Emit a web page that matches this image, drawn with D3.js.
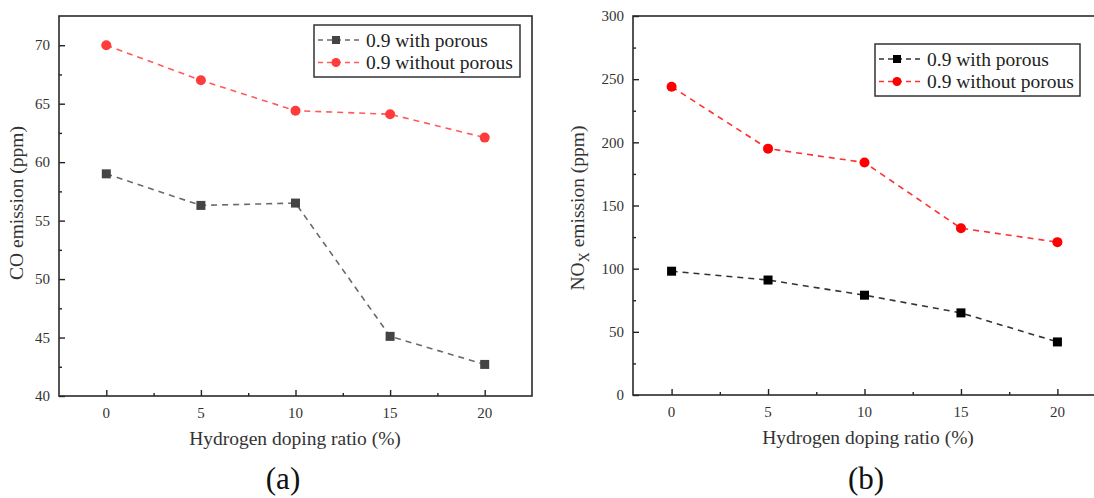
<!DOCTYPE html>
<html>
<head>
<meta charset="utf-8">
<script src="https://cdn.jsdelivr.net/npm/d3@7"></script>
<style>
  html, body { margin: 0; padding: 0; background: #fff; }
  text { font-family: "Liberation Serif", "DejaVu Serif", serif; }
</style>
</head>
<body>
<svg id="fig" width="1094" height="498"></svg>
<script>
// Hydrogen doping ratios (%) shared by both panels
const ratios = [0, 5, 10, 15, 20];

// Panel (a): CO emission (ppm)
const coWithPorous = [59.0, 56.3, 56.5, 45.1, 42.7];
const coWithoutPorous = [70.0, 67.0, 64.4, 64.1, 62.1];
const coTicks = [40, 45, 50, 55, 60, 65, 70];

// Panel (b): NOx emission (ppm)
const noxWithPorous = [98, 91, 79, 65, 42];
const noxWithoutPorous = [244, 195, 184, 132, 121];
const noxTicks = [0, 50, 100, 150, 200, 250, 300];

const seriesNames = ["0.9 with porous", "0.9 without porous"];
const xTicks = [0, 5, 10, 15, 20];

const FONT = "Liberation Serif, DejaVu Serif, serif";
const TITLE_SIZE = 19.5;

const svg = d3.select("#fig").attr("font-family", FONT);
svg.append("rect").attr("width", 1094).attr("height", 498).attr("fill", "#fff");

function panel(cfg) {
  const g = svg.append("g").attr("font-family", FONT);
  const x = d3.scaleLinear().domain(cfg.xDomain).range([cfg.left, cfg.right]);
  const y = d3.scaleLinear().domain(cfg.yDomain).range([cfg.bottom, cfg.top]);

  // inward major ticks with minor ticks between them
  const yAxis = d3.axisRight(y).tickValues(cfg.yTicks).tickSize(6).tickFormat("");
  const yMinor = d3.axisRight(y)
    .tickValues(cfg.yTicks.slice(0, -1).map((v, i) => (v + cfg.yTicks[i + 1]) / 2))
    .tickSize(3).tickFormat("");
  const xAxis = d3.axisTop(x).tickValues(xTicks).tickSize(6).tickFormat("");
  const xMinor = d3.axisTop(x)
    .tickValues(xTicks.slice(0, -1).map(v => v + 2.5))
    .tickSize(3).tickFormat("");

  [yAxis, yMinor].forEach(a => {
    const ag = g.append("g").attr("transform", `translate(${cfg.left},0)`).call(a);
    ag.select(".domain").remove();
    ag.selectAll("line").attr("stroke", "#222").attr("stroke-width", 1.4);
  });
  [xAxis, xMinor].forEach(a => {
    const ag = g.append("g").attr("transform", `translate(0,${cfg.bottom})`).call(a);
    ag.select(".domain").remove();
    ag.selectAll("line").attr("stroke", "#222").attr("stroke-width", 1.4);
  });

  // tick labels
  g.selectAll(".ylab").data(cfg.yTicks).join("text")
    .attr("font-family", FONT)
    .attr("x", cfg.left - 9).attr("y", d => y(d)).attr("dy", "0.35em")
    .attr("text-anchor", "end").attr("font-size", 15).attr("fill", "#333")
    .text(d => d);
  g.selectAll(".xlab").data(xTicks).join("text")
    .attr("font-family", FONT)
    .attr("x", d => x(d)).attr("y", cfg.bottom + 17).attr("dy", "0.35em")
    .attr("text-anchor", "middle").attr("font-size", 15).attr("fill", "#333")
    .text(d => d);

  // frame
  g.append("rect")
    .attr("x", cfg.left).attr("y", cfg.top)
    .attr("width", cfg.right - cfg.left).attr("height", cfg.bottom - cfg.top)
    .attr("fill", "none").attr("stroke", "#2a2a2a").attr("stroke-width", 1.6);

  // axis titles
  g.append("text")
    .attr("font-family", FONT)
    .attr("x", cfg.xTitleX).attr("y", cfg.bottom + 49)
    .attr("text-anchor", "middle").attr("font-size", TITLE_SIZE).attr("fill", "#333")
    .text("Hydrogen doping ratio (%)");
  const yt = g.append("text")
    .attr("font-family", FONT)
    .attr("transform", `translate(${cfg.yTitleX},${cfg.yTitleY}) rotate(-90)`)
    .attr("text-anchor", "middle").attr("font-size", TITLE_SIZE).attr("fill", "#333");
  cfg.yTitle(yt);

  g.append("text")
    .attr("font-family", FONT)
    .attr("x", cfg.captionX).attr("y", 489)
    .attr("text-anchor", "middle").attr("font-size", 31).attr("fill", "#111")
    .text(cfg.caption);

  const line = d3.line().x((d, i) => x(ratios[i])).y(d => y(d));

  cfg.series.forEach(s => {
    g.append("path").datum(s.values)
      .attr("d", line).attr("fill", "none")
      .attr("stroke", s.line).attr("stroke-width", 1.6)
      .attr("stroke-dasharray", "6,5");
    if (s.shape === "square") {
      g.selectAll(null).data(s.values).join("rect")
        .attr("x", (d, i) => x(ratios[i]) - 4.5).attr("y", d => y(d) - 4.5)
        .attr("width", 9).attr("height", 9).attr("fill", s.color);
    } else {
      g.selectAll(null).data(s.values).join("circle")
        .attr("cx", (d, i) => x(ratios[i])).attr("cy", d => y(d))
        .attr("r", 5).attr("fill", s.color);
    }
  });

  // legend
  const L = cfg.legend;
  g.append("rect").attr("x", L.x).attr("y", L.y).attr("width", L.w).attr("height", L.h)
    .attr("fill", "#fff").attr("stroke", "#333").attr("stroke-width", 1.5);
  cfg.series.forEach((s, k) => {
    const cy = L.y + 15 + k * 22.5;
    g.append("line")
      .attr("x1", L.x + 4).attr("x2", L.x + 46).attr("y1", cy).attr("y2", cy)
      .attr("stroke", s.line).attr("stroke-width", 1.6).attr("stroke-dasharray", "5,4");
    const mx = L.x + 22;
    if (s.shape === "square") {
      g.append("rect").attr("x", mx - 4).attr("y", cy - 4).attr("width", 8).attr("height", 8)
        .attr("fill", s.color);
    } else {
      g.append("circle").attr("cx", mx).attr("cy", cy).attr("r", 4.5).attr("fill", s.color);
    }
    g.append("text").attr("font-family", FONT)
      .attr("x", L.x + 52).attr("y", cy).attr("dy", "0.35em")
      .attr("font-size", TITLE_SIZE).attr("fill", "#222").text(seriesNames[k]);
  });
}

panel({
  left: 59, right: 532, top: 16, bottom: 396,
  xDomain: [-2.5, 22.5], yDomain: [40, 72.5], yTicks: coTicks,
  xTitleX: 295,
  yTitleX: 23, yTitleY: 203,
  yTitle: t => t.text("CO emission (ppm)"),
  caption: "(a)", captionX: 283,
  legend: { x: 314, y: 25, w: 206, h: 52 },
  series: [
    { values: coWithPorous, color: "#444", line: "#6a6a6a", shape: "square" },
    { values: coWithoutPorous, color: "#ff3b3b", line: "#ff5a5a", shape: "circle" }
  ]
});

panel({
  left: 633, right: 1096, top: 16, bottom: 395,
  xDomain: [-2, 22], yDomain: [0, 300], yTicks: noxTicks,
  xTitleX: 868,
  yTitleX: 584, yTitleY: 208,
  yTitle: t => {
    t.append("tspan").text("NO");
    t.append("tspan").attr("font-size", 14).attr("dy", 5).text("X");
    t.append("tspan").attr("dy", -5).text(" emission (ppm)");
  },
  caption: "(b)", captionX: 866,
  legend: { x: 875, y: 44, w: 205, h: 52 },
  series: [
    { values: noxWithPorous, color: "#000", line: "#333", shape: "square" },
    { values: noxWithoutPorous, color: "#ff0000", line: "#ff3030", shape: "circle" }
  ]
});
</script>
</body>
</html>
